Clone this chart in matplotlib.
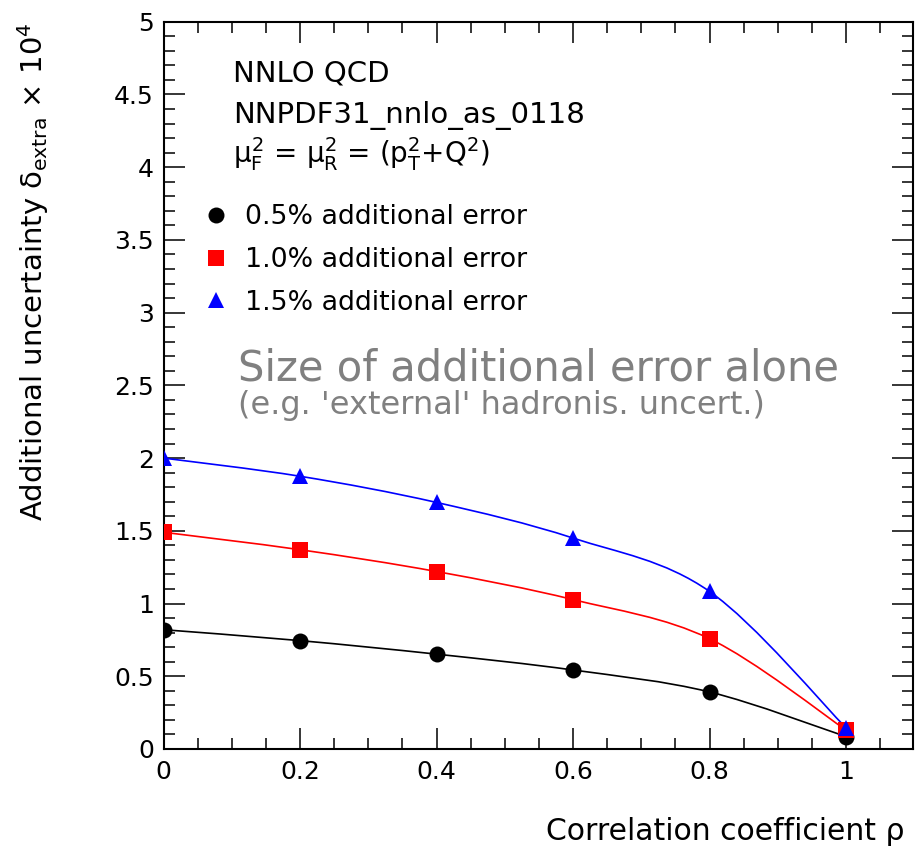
import numpy as np
import matplotlib
matplotlib.use("Agg")
import matplotlib.pyplot as plt
from matplotlib.path import Path
from matplotlib.patches import PathPatch
from matplotlib.ticker import MultipleLocator, FuncFormatter

plt.rcParams['font.family'] = ['DejaVu Sans']
plt.rcParams['mathtext.fontset'] = 'custom'
plt.rcParams['mathtext.rm'] = 'DejaVu Sans'
plt.rcParams['mathtext.it'] = 'DejaVu Sans'
plt.rcParams['mathtext.bf'] = 'DejaVu Sans:bold'

# correlation coefficient rho
rho = [0.0, 0.2, 0.4, 0.6, 0.8, 1.0]
# additional uncertainty (x 1e4) for each extra error size
err_05 = [0.82, 0.745, 0.652, 0.543, 0.392, 0.085]
err_10 = [1.49, 1.37, 1.22, 1.027, 0.758, 0.13]
err_15 = [2.00, 1.875, 1.695, 1.45, 1.083, 0.145]
labels = ["0.5% additional error", "1.0% additional error", "1.5% additional error"]


def smooth_path(x, y):
  # catmull-rom style bezier through the points (like ROOT's "C" option)
  pts = np.column_stack([x, y])
  n = len(pts)
  verts = [pts[0]]
  codes = [Path.MOVETO]
  for i in range(n - 1):
    p0 = pts[max(i - 1, 0)]
    p1 = pts[i]
    p2 = pts[i + 1]
    p3 = pts[min(i + 2, n - 1)]
    verts += [p1 + (p2 - p0) / 6.0, p2 - (p3 - p1) / 6.0, p2]
    codes += [Path.CURVE4] * 3
  return Path(verts, codes)


fig = plt.figure(figsize=(9.16, 8.55), dpi=100)
ax = fig.add_axes([0.1785, 0.124, 0.9967 - 0.1785, 0.9746 - 0.124])

series = [(err_05, "black", "o", 11.5), (err_10, "#ff0000", "s", 11), (err_15, "#0000ff", "^", 12)]
for vals, col, mk, ms in series:
  ax.add_patch(PathPatch(smooth_path(rho, vals), facecolor="none", edgecolor=col, lw=1.2, zorder=2))
for (vals, col, mk, ms), lab in zip(series, labels):
  ax.plot(rho, vals, ls="none", marker=mk, color=col, markersize=ms, markeredgewidth=0, label=lab, zorder=3)

ax.set_xlim(0, 1.098)
ax.set_ylim(0, 5)
ax.xaxis.set_major_locator(MultipleLocator(0.2))
ax.xaxis.set_minor_locator(MultipleLocator(0.05))
ax.yaxis.set_major_locator(MultipleLocator(0.5))
ax.yaxis.set_minor_locator(MultipleLocator(0.1))
fmt = FuncFormatter(lambda v, p: "%g" % round(v, 2))
ax.xaxis.set_major_formatter(fmt)
ax.yaxis.set_major_formatter(fmt)
ax.tick_params(which="both", direction="in", top=True, right=True, width=1.1, labelsize=18)
ax.tick_params(which="major", length=15)
ax.tick_params(which="minor", length=8)
ax.tick_params(axis="y", pad=7)
ax.tick_params(axis="x", pad=8)
for s in ax.spines.values():
  s.set_linewidth(1.5)

fig.text(905 / 916, (855 - 840) / 855, "Correlation coefficient ρ", ha="right", va="baseline", fontsize=21.5)
fig.text(33 / 916, (855 - 22) / 855, r"Additional uncertainty $\delta_{\rm extra}$ × 10$^{4}$",
         rotation=90, ha="center", va="top", fontsize=21)

fig.text(233 / 916, (855 - 81.7) / 855, "NNLO QCD", fontsize=21, va="baseline")
fig.text(233 / 916, (855 - 123) / 855, "NNPDF31_nnlo_as_0118", fontsize=21, va="baseline")
fig.text(233 / 916, (855 - 163) / 855, r"$\mu^{2}_{\rm F}$ = $\mu^{2}_{\rm R}$ = (p$^{2}_{\rm T}$+Q$^{2}$)",
         fontsize=20, va="baseline")

ax.legend(loc="upper left", bbox_to_anchor=(202.6 / 916, (855 - 204) / 855), bbox_transform=fig.transFigure,
          frameon=False, fontsize=19.3, handlelength=1.0, handletextpad=0.58, borderpad=0,
          borderaxespad=0, labelspacing=0.63, numpoints=1)

fig.text(238 / 916, (855 - 380) / 855, "Size of additional error alone", fontsize=30.1, color="#808080",
         va="baseline")
fig.text(238 / 916, (855 - 414) / 855, "(e.g. 'external' hadronis. uncert.)", fontsize=23, color="#808080",
         va="baseline")

fig.savefig("out.png", dpi=100)
